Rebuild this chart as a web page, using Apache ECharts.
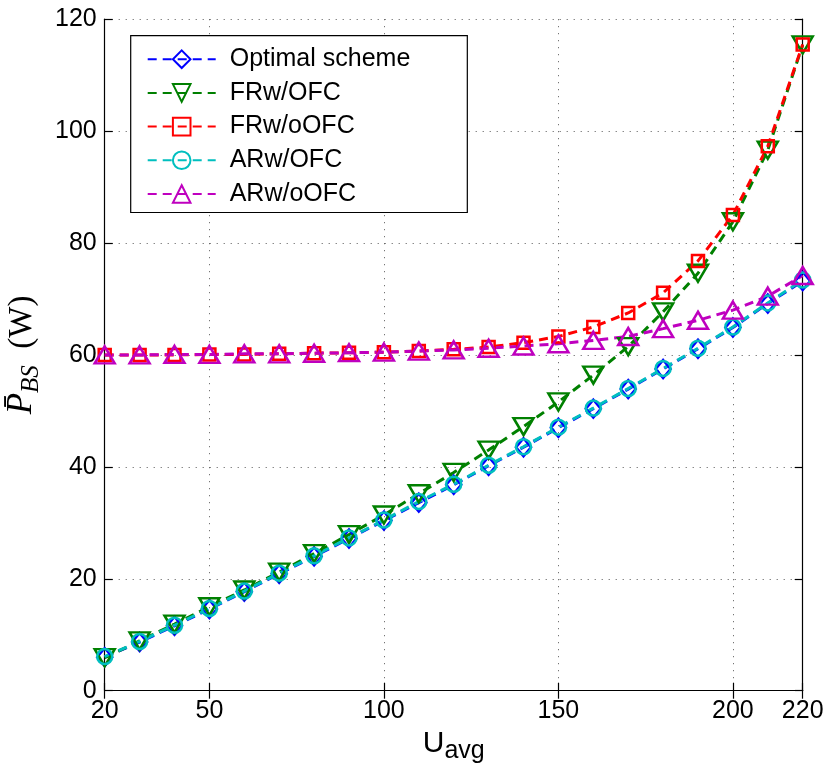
<!DOCTYPE html>
<html><head><meta charset="utf-8">
<script src="https://cdn.jsdelivr.net/npm/echarts@6/dist/echarts.min.js"></script>
<style>html,body{margin:0;padding:0;background:#fff}#c{width:825px;height:771px}</style>
</head><body><div id="c"></div>
<script>
const uAvg = [20,30,40,50,60,70,80,90,100,110,120,130,140,150,160,170,180,190,200,210,220];
const xTicks = [20,50,100,150,200,220];
const optimalScheme = [6.0,8.7,11.6,14.6,17.7,20.9,24.0,27.2,30.4,33.6,36.8,40.2,43.5,47.0,50.4,53.9,57.5,61.1,64.9,69.2,73.2];
const frwOFC = [5.9,8.9,11.9,15.0,18.0,21.2,24.5,27.9,31.4,35.2,39.0,43.0,47.2,51.6,56.4,61.5,67.7,74.6,83.8,96.6,115.4];
const frwoOFC = [60.0,60.0,60.0,60.1,60.1,60.2,60.3,60.4,60.5,60.7,61.0,61.4,62.2,63.3,65.0,67.5,71.1,76.8,85.0,97.3,115.5];
const arwOFC = [6.1,8.8,11.7,14.7,17.8,21.0,24.1,27.3,30.5,33.8,36.9,40.3,43.6,47.1,50.5,54.0,57.6,61.2,65.0,69.3,73.4];
const arwoOFC = [60.0,60.0,60.1,60.1,60.2,60.2,60.3,60.4,60.5,60.7,60.9,61.2,61.6,62.0,62.6,63.3,64.7,66.2,68.0,70.5,74.2];

const SANS = '"Liberation Sans", Arial, Helvetica, sans-serif';
const SERIF = '"Liberation Serif", "DejaVu Serif", "Times New Roman", serif';

function pairs(vals){ return uAvg.map((x,i)=>[x, vals[i]]); }
function mk(name, vals, color, symbol, size, rotate){
  return {
    name, type:'line', data: pairs(vals), xAxisIndex:0, yAxisIndex:0,
    symbol, symbolSize:size, symbolRotate: rotate||0, showSymbol:true, clip:false,
    lineStyle:{color, width:3, type:[9,6]},
    itemStyle:{color:'rgba(255,255,255,0)', borderColor:color, borderWidth:2.5},
    emphasis:{disabled:true}
  };
}

const chart = echarts.init(document.getElementById('c'), null, {renderer:'canvas'});
const axisLineStyle = {color:'#000', width:1.2};
chart.setOption({
  animation:false,
  backgroundColor:'#fff',
  grid:{left:104.7, right:22.3, top:19.2, bottom:80.3, containLabel:false, outerBoundsMode:'none'},
  legend:{
    orient:'vertical', left:130.7, top:35.7,
    padding:[11,57,6,16], itemWidth:68, itemHeight:22, itemGap:8.7,
    backgroundColor:'#fff', borderColor:'#000', borderWidth:1.2, borderRadius:0,
    textStyle:{fontSize:25, fontFamily:SANS, color:'#000', lineHeight:25, padding:[0,0,0,9]},
    selectedMode:false
  },
  xAxis:[{
    type:'value', min:20, max:220, position:'bottom',
    axisLine:{show:true, lineStyle:axisLineStyle},
    axisTick:{show:true, inside:true, length:8, customValues:xTicks, lineStyle:axisLineStyle},
    axisLabel:{show:true, customValues:xTicks, fontSize:25, fontFamily:SANS, color:'#000', margin:8},
    splitLine:{show:true, lineStyle:{type:[1,6], color:'#555', width:1}},
    name:'{u|U}{a|avg}', nameLocation:'middle', nameGap:30,
    nameTextStyle:{rich:{
      u:{fontSize:30, fontFamily:SANS, color:'#000', lineHeight:40, verticalAlign:'middle'},
      a:{fontSize:25, fontFamily:SANS, color:'#000', lineHeight:22, verticalAlign:'bottom'}
    }}
  },{
    type:'value', min:20, max:220, position:'top',
    axisLine:{show:true, lineStyle:axisLineStyle},
    axisTick:{show:true, inside:true, length:8, customValues:xTicks, lineStyle:axisLineStyle},
    axisLabel:{show:false}, splitLine:{show:false}
  }],
  yAxis:[{
    type:'value', min:0, max:120, interval:20, position:'left',
    axisLine:{show:true, lineStyle:axisLineStyle},
    axisTick:{show:true, inside:true, length:8, lineStyle:axisLineStyle},
    axisLabel:{fontSize:25, fontFamily:SANS, color:'#000', margin:8},
    splitLine:{show:true, lineStyle:{type:[1,6], color:'#555', width:1}},
    name:'{p|P\u0304}{s|BS}{w|  (W)}', nameLocation:'middle', nameGap:56, nameRotate:90,
    nameTextStyle:{rich:{
      p:{fontSize:35, fontFamily:SERIF, fontStyle:'italic', color:'#000', lineHeight:44, verticalAlign:'middle'},
      s:{fontSize:25, fontFamily:SERIF, fontStyle:'italic', color:'#000', lineHeight:24, verticalAlign:'bottom'},
      w:{fontSize:33, fontFamily:SERIF, color:'#000', lineHeight:44, verticalAlign:'middle'}
    }}
  },{
    type:'value', min:0, max:120, interval:20, position:'right',
    axisLine:{show:true, lineStyle:axisLineStyle},
    axisTick:{show:true, inside:true, length:8, lineStyle:axisLineStyle},
    axisLabel:{show:false}, splitLine:{show:false}
  }],
  series:[
    mk('Optimal scheme', optimalScheme, '#0000ff', 'diamond', [15,18]),
    mk('FRw/OFC', frwOFC, '#008000', 'triangle', [20,17], 180),
    mk('FRw/oOFC', frwoOFC, '#ff0000', 'rect', [12,12]),
    mk('ARw/OFC', arwOFC, '#00bfbf', 'circle', 15),
    mk('ARw/oOFC', arwoOFC, '#bf00bf', 'triangle', [20,17])
  ]
});
</script></body></html>
